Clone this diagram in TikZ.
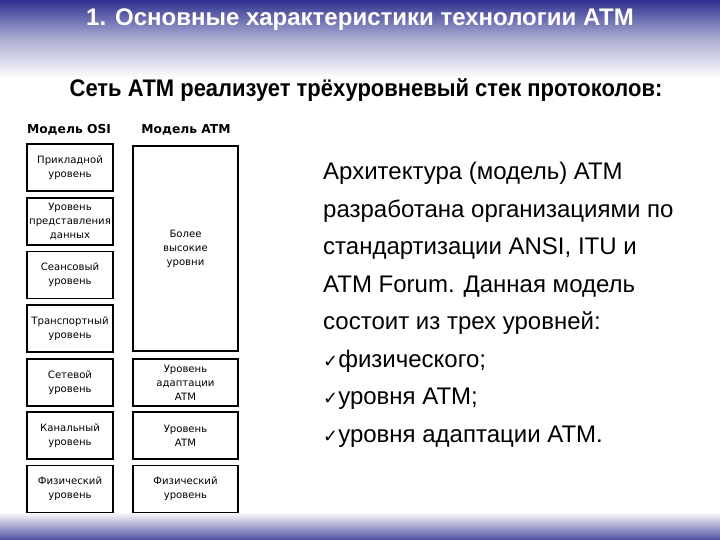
\documentclass[tikz,border=0pt]{standalone}
\usepackage{fontspec}
\setmainfont{Liberation Sans}
\newfontfamily\boxfont{DejaVu Sans}
\newfontfamily\checkfont{DejaVu Sans}
\usetikzlibrary{positioning}
\definecolor{slideblue}{RGB}{48,50,145}

\begin{document}
\begin{tikzpicture}[x=1pt,y=-1pt,
		osibox/.style={draw, line width=1.6pt, minimum width=86pt, minimum height=47pt, align=center, inner sep=0pt, font=\boxfont\fontsize{10.1}{14}\selectfont},
		atmbox/.style={osibox, minimum width=105pt},
		head/.style={font=\boxfont\bfseries\fontsize{12.3}{14}\selectfont}]
		\useasboundingbox (0,0) rectangle (720,540);
		\shade[top color=slideblue, bottom color=white, middle color=slideblue!40] (0,0) rectangle (720,78);
		\shade[top color=white, bottom color=slideblue!85] (0,512) rectangle (720,540);
		\node[text=white, font=\bfseries\fontsize{24}{28}\selectfont] (title) at (360,20) {1. Основные характеристики технологии АТМ};
		\node[font=\bfseries\fontsize{24}{28}\selectfont] (sub) at (366,90) {\scalebox{0.915}[1]{Сеть АТМ реализует трёхуровневый стек протоколов:}};
		% OSI
		\node[head] (hosi) at (69,130) {Модель OSI};
		\node[osibox] (app) at (70,167.5) {Прикладной\\уровень};
		\node[osibox] (pres) at (70,221.5) {Уровень\\представления\\данных};
		\node[osibox] (sess) at (70,275) {Сеансовый\\уровень};
		\node[osibox] (tran) at (70,328.5) {Транспортный\\уровень};
		\node[osibox] (net) at (70,382.5) {Сетевой\\уровень};
		\node[osibox] (link) at (70,435.5) {Канальный\\уровень};
		\node[osibox] (phys) at (70,489) {Физический\\уровень};
		% ATM
		\node[head] (hatm) at (186,130) {Модель ATM};
		\node[atmbox, minimum height=205pt] (upper) at (185.5,248.5) {Более\\высокие\\уровни};
		\node[atmbox] (aal) at (185.5,382.5) {Уровень\\адаптации\\ATM};
		\node[atmbox] (atm) at (185.5,435.5) {Уровень\\ATM};
		\node[atmbox] (aphys) at (185.5,489) {Физический\\уровень};
		% text
		\node[anchor=north west, align=left, inner sep=0pt, font=\fontsize{24}{37.5}\selectfont] (txt) at (323,162) {Архитектура (модель) АТМ\\
			разработана организациями по\\
			стандартизации ANSI, ITU и\\
			ATM Forum. Данная модель\\
			состоит из трех уровней:\\
			{\checkfont\fontsize{18}{20}\selectfont ✓}физического;\\
			{\checkfont\fontsize{18}{20}\selectfont ✓}уровня АТМ;\\
			{\checkfont\fontsize{18}{20}\selectfont ✓}уровня адаптации АТМ.};
\end{tikzpicture}
\end{document}
